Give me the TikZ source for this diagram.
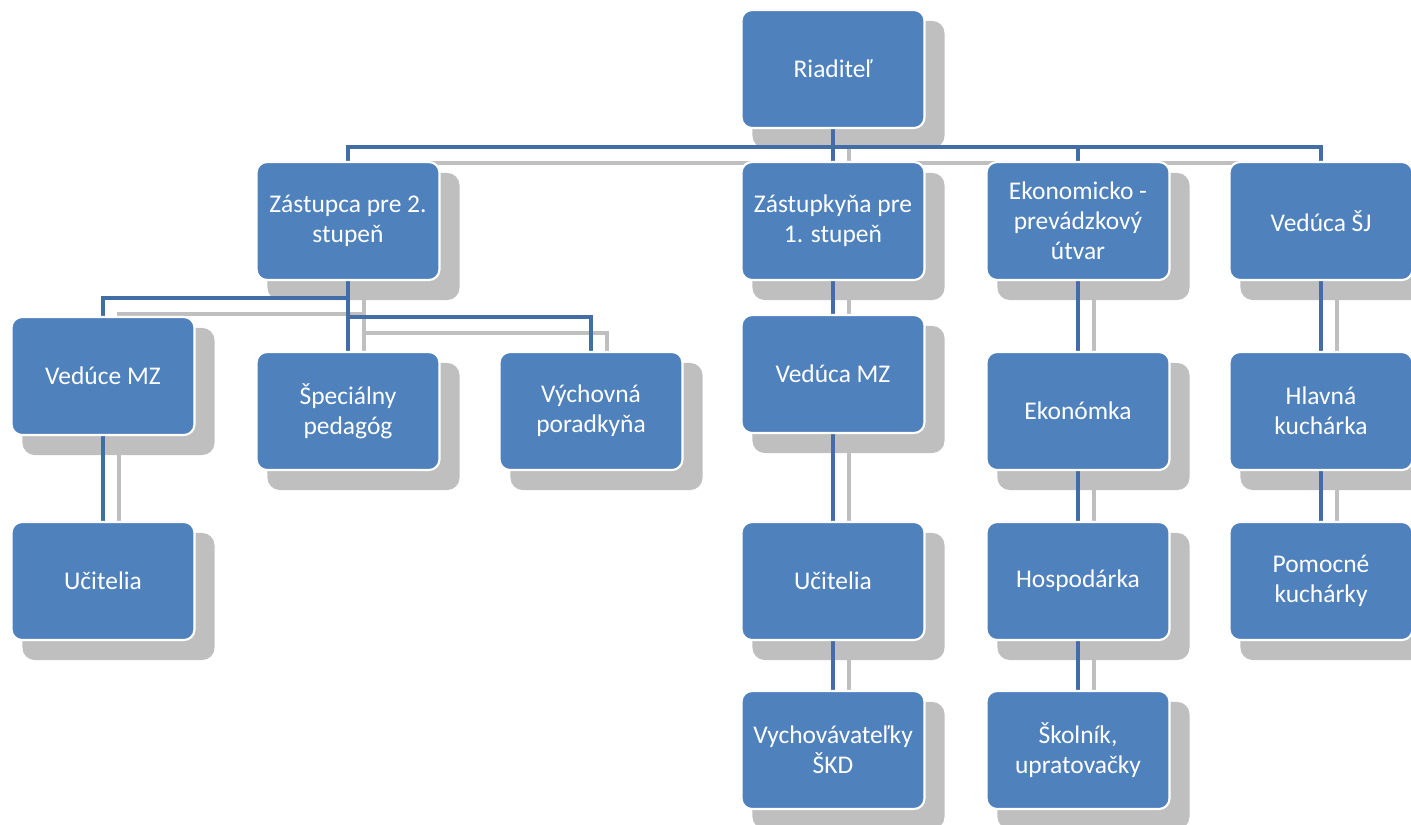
\documentclass[tikz,border=0pt]{standalone}
\usepackage{fontspec}
\setmainfont{Carlito}
\usepackage{tikz}
\usetikzlibrary{calc}
\definecolor{boxblue}{RGB}{79,129,189}
\definecolor{linkblue}{RGB}{66,109,166}
\definecolor{shadowgray}{RGB}{191,191,191}
\pgfdeclarelayer{shadows}
\pgfdeclarelayer{links}
\pgfsetlayers{shadows,links,main}

\newcommand{\orglinks}{%
  \draw (riad.south) -- ++(0,18) -| (zast2.north);
  \draw (riad.south) -- (zast1.north);
  \draw (riad.south) -- ++(0,18) -| (ekon.north);
  \draw (riad.south) -- ++(0,18) -| (vsj.north);
  \draw (zast2.south) -- ++(0,17) -| (vmz2.north);
  \draw (zast2.south) -- (spec.north);
  \draw (zast2.south) -- ++(0,36) -| (vpor.north);
  \draw (vmz2.south) -- (uc2.north);
  \draw (zast1.south) -- (vmz1.north);
  \draw (vmz1.south) -- (uc1.north);
  \draw (uc1.south) -- (skd.north);
  \draw (ekon.south) -- (ekm.north);
  \draw (ekm.south) -- (hosp.north);
  \draw (hosp.south) -- (skol.north);
  \draw (vsj.south) -- (hkuch.north);
  \draw (hkuch.south) -- (pkuch.north);
}

\begin{document}
\begin{tikzpicture}[x=0.02cm,y=-0.02cm,
  every node/.style={font=\fontsize{14.5}{17}\selectfont},
  orgbox/.style={draw=white,line width=1.2pt,fill=boxblue,text=white,rounded corners=6pt,
    minimum width=3.66cm,minimum height=2.36cm,align=center,inner sep=2pt}]
\useasboundingbox (0,0) rectangle (1411,825);

\node[orgbox] (riad) at (833,69) {Riaditeľ};

\node[orgbox] (zast2) at (348,221) {Zástupca pre 2.\\stupeň};
\node[orgbox] (zast1) at (833,221) {Zástupkyňa pre\\1. stupeň};
\node[orgbox] (ekon) at (1078,221) {Ekonomicko -\\prevádzkový\\útvar};
\node[orgbox] (vsj) at (1321,221) {Vedúca ŠJ};

\node[orgbox] (vmz2) at (103,376) {Vedúce MZ};
\node[orgbox] (spec) at (348,411) {Špeciálny\\pedagóg};
\node[orgbox] (vpor) at (591,411) {Výchovná\\poradkyňa};
\node[orgbox] (vmz1) at (833,374) {Vedúca MZ};
\node[orgbox] (ekm) at (1078,411) {Ekonómka};
\node[orgbox] (hkuch) at (1321,411) {Hlavná\\kuchárka};

\node[orgbox] (uc2) at (103,581) {Učitelia};
\node[orgbox] (uc1) at (833,581) {Učitelia};
\node[orgbox] (hosp) at (1078,581) {Hospodárka};
\node[orgbox] (pkuch) at (1321,581) {Pomocné\\kuchárky};

\node[orgbox] (skd) at (833,750) {Vychovávateľky\\ŠKD};
\node[orgbox] (skol) at (1078,750) {Školník,\\upratovačky};

\begin{pgfonlayer}{shadows}
\foreach \n in {riad,zast2,zast1,ekon,vsj,vmz2,spec,vpor,vmz1,ekm,hkuch,uc2,uc1,hosp,pkuch,skd,skol}
  \fill[shadowgray,rounded corners=7pt] ([shift={(12,12)}]\n.north west) rectangle ([shift={(19,19)}]\n.south east);
\begin{scope}[transform canvas={shift={(0.32cm,-0.32cm)}},draw=shadowgray,line width=2.2pt]
\orglinks
\end{scope}
\end{pgfonlayer}

\begin{pgfonlayer}{links}
\begin{scope}[draw=linkblue,line width=2.2pt]
\orglinks
\end{scope}
\end{pgfonlayer}
\end{tikzpicture}
\end{document}
